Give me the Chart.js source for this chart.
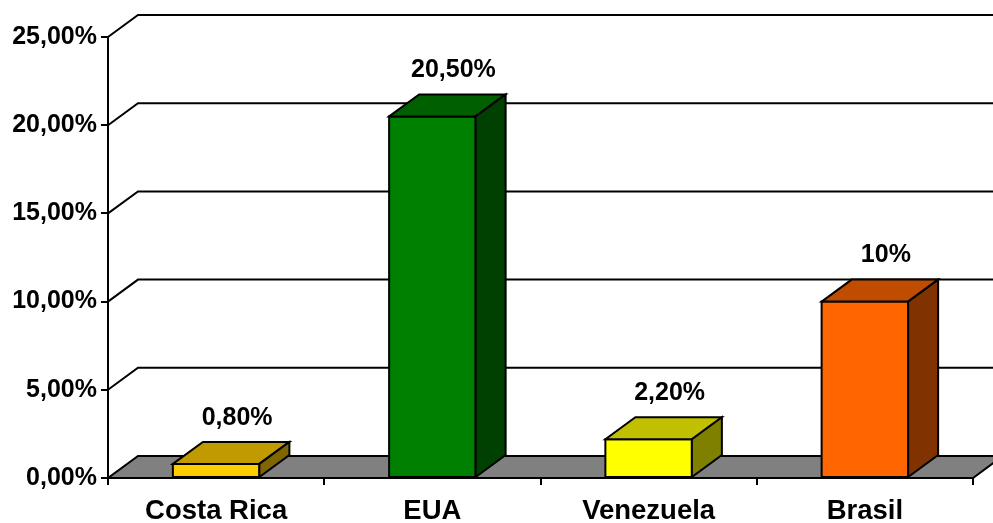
<!DOCTYPE html>
<html>
<head>
<meta charset="utf-8">
<script src="https://cdn.jsdelivr.net/npm/chart.js@4/dist/chart.umd.min.js"></script>
<style>
html,body{margin:0;padding:0;background:#fff;}
#wrap{width:993px;height:523px;position:relative;}
</style>
</head>
<body>
<div id="wrap"><canvas id="c" width="993" height="523"></canvas></div>
<script>
const categories = ['Costa Rica', 'EUA', 'Venezuela', 'Brasil'];
const values = [0.8, 20.5, 2.2, 10];
const valueLabels = ['0,80%', '20,50%', '2,20%', '10%'];
const frontColors = ['#FFCC00', '#008000', '#FFFF00', '#FF6600'];
const topColors = ['#C09A00', '#006000', '#C0C000', '#C04C00'];
const sideColors = ['#806600', '#004000', '#808000', '#803300'];
const yTicks = [0, 5, 10, 15, 20, 25];

const DX = 30, DY = -22;
const FONT = 'Liberation Sans, Arial, Helvetica, sans-serif';

const threeD = {
  id: 'threeD',
  beforeDatasetsDraw(chart) {
    const ctx = chart.ctx;
    const y = chart.scales.y;
    const left = chart.chartArea.left, right = chart.chartArea.right;
    ctx.save();
    ctx.lineWidth = 2;
    ctx.strokeStyle = '#000';
    ctx.lineJoin = 'miter';
    yTicks.forEach(v => {
      if (v === 0) return;
      const py = y.getPixelForValue(v);
      ctx.beginPath();
      ctx.moveTo(left, py);
      ctx.lineTo(left + DX, py + DY);
      ctx.lineTo(right + DX + 40, py + DY);
      ctx.stroke();
    });
    const fy = y.getPixelForValue(0);
    ctx.beginPath();
    ctx.moveTo(left, fy);
    ctx.lineTo(right, fy);
    ctx.lineTo(right + DX, fy + DY);
    ctx.lineTo(left + DX, fy + DY);
    ctx.closePath();
    ctx.fillStyle = '#808080';
    ctx.fill();
    ctx.stroke();
    ctx.restore();
  },
  afterDatasetsDraw(chart) {
    const ctx = chart.ctx;
    const meta = chart.getDatasetMeta(0);
    ctx.save();
    ctx.lineWidth = 2;
    ctx.strokeStyle = '#000';
    ctx.lineJoin = 'miter';
    meta.data.forEach((bar, i) => {
      const x0 = bar.x - bar.width / 2, x1 = bar.x + bar.width / 2;
      const top = bar.y, base = bar.base;
      ctx.fillStyle = frontColors[i];
      ctx.beginPath();
      ctx.rect(x0, top, x1 - x0, base - top);
      ctx.fill(); ctx.stroke();
      ctx.fillStyle = topColors[i];
      ctx.beginPath();
      ctx.moveTo(x0, top);
      ctx.lineTo(x0 + DX, top + DY);
      ctx.lineTo(x1 + DX, top + DY);
      ctx.lineTo(x1, top);
      ctx.closePath();
      ctx.fill(); ctx.stroke();
      ctx.fillStyle = sideColors[i];
      ctx.beginPath();
      ctx.moveTo(x1, top);
      ctx.lineTo(x1 + DX, top + DY);
      ctx.lineTo(x1 + DX, base + DY);
      ctx.lineTo(x1, base);
      ctx.closePath();
      ctx.fill(); ctx.stroke();
      ctx.fillStyle = '#000';
      ctx.font = 'bold 25px ' + FONT;
      ctx.textAlign = 'center';
      ctx.textBaseline = 'middle';
      ctx.fillText(valueLabels[i], bar.x + 21, top + DY - 24);
    });
    ctx.restore();
  }
};

new Chart(document.getElementById('c'), {
  type: 'bar',
  data: {
    labels: categories,
    datasets: [{
      data: values,
      backgroundColor: 'rgba(0,0,0,0)',
      borderWidth: 0,
      barPercentage: 0.4,
      categoryPercentage: 1.0
    }]
  },
  options: {
    responsive: false,
    animation: false,
    devicePixelRatio: 1,
    layout: { padding: { top: 37, right: 20, left: 0, bottom: 0 } },
    plugins: { legend: { display: false }, tooltip: { enabled: false } },
    scales: {
      y: {
        min: 0, max: 25,
        afterFit(s) { s.width = 108; },
        afterBuildTicks(s) { s.ticks = yTicks.map(v => ({ value: v })); },
        ticks: {
          color: '#000',
          padding: 4,
          font: { family: FONT, size: 25, weight: 'bold' },
          callback: v => v.toFixed(2).replace('.', ',') + '%'
        },
        grid: { drawOnChartArea: false, drawTicks: true, tickLength: 7, color: '#000', lineWidth: 2 },
        border: { display: true, color: '#000', width: 2 }
      },
      x: {
        offset: true,
        afterFit(s) { s.height = 45; },
        ticks: {
          color: '#000',
          padding: 10,
          font: { family: FONT, size: 27.5, weight: 'bold' }
        },
        grid: { offset: true, drawOnChartArea: false, drawTicks: true, tickLength: 7, color: '#000', lineWidth: 2 },
        border: { display: true, color: '#000', width: 2 }
      }
    }
  },
  plugins: [threeD]
});
</script>
</body>
</html>
